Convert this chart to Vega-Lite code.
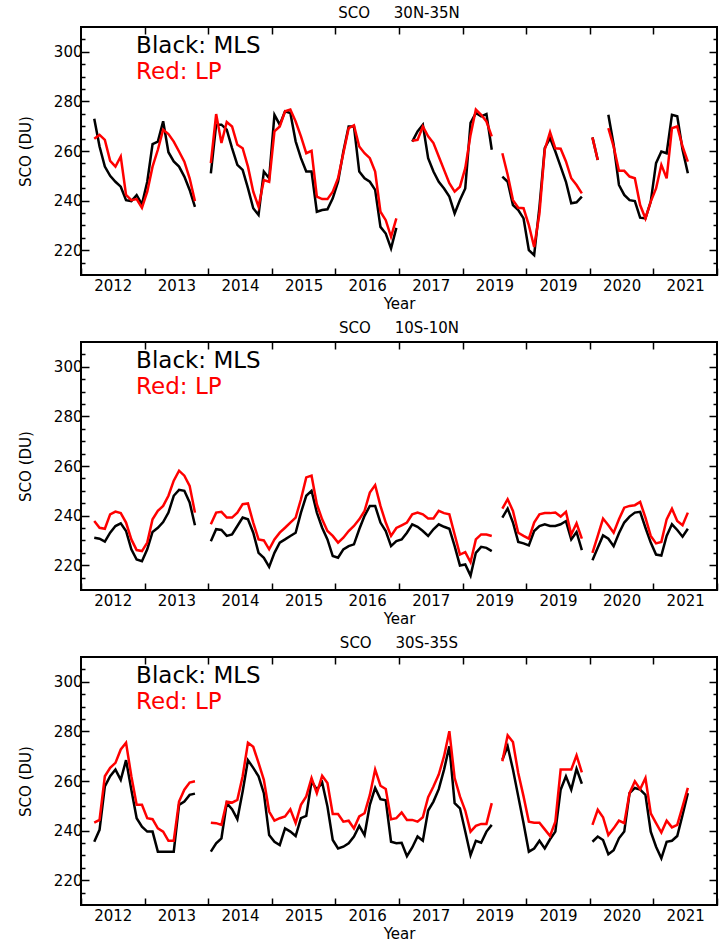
{
"$schema":"https://vega.github.io/schema/vega-lite/v6.json",
"background":"white",
"padding":{"left":17,"top":5,"right":0,"bottom":0},
"spacing":8,
"config":{"view":{"stroke":"black","strokeWidth":2},"font":"DejaVu Sans",
 "title":{"font":"DejaVu Sans","fontSize":15,"fontWeight":"normal","color":"black","offset":5},
 "axis":{"grid":false,"domain":false,"tickColor":"black","tickWidth":1.5,"labelFont":"DejaVu Sans","labelFontSize":15,"labelColor":"black","titleFont":"DejaVu Sans","titleFontSize":15,"titleFontWeight":"normal","titleColor":"black","labelOverlap":false,"labelFlush":false}},
"datasets":{"sco":[
{"p":"A","g":1,"m":2,"MLS":273,"LP":264.9},{"p":"A","g":1,"m":3,"MLS":261.8,"LP":266.5},{"p":"A","g":1,"m":4,"MLS":253.7,"LP":264.5},{"p":"A","g":1,"m":5,"MLS":250,"LP":256},{"p":"A","g":1,"m":6,"MLS":247.6,"LP":253.7},{"p":"A","g":1,"m":7,"MLS":245.6,"LP":257.8},{"p":"A","g":1,"m":8,"MLS":240.2,"LP":242.3},{"p":"A","g":1,"m":9,"MLS":239.8,"LP":240.2},{"p":"A","g":1,"m":10,"MLS":242.2,"LP":240.6},{"p":"A","g":1,"m":11,"MLS":238.5,"LP":237.1},{"p":"A","g":1,"m":12,"MLS":247.6,"LP":243.6},{"p":"A","g":1,"m":13,"MLS":262.8,"LP":253.7},{"p":"A","g":1,"m":14,"MLS":263.8,"LP":260.5},{"p":"A","g":1,"m":15,"MLS":272,"LP":268.6},{"p":"A","g":1,"m":16,"MLS":259.5,"LP":266.8},{"p":"A","g":1,"m":17,"MLS":255.8,"LP":263.8},{"p":"A","g":1,"m":18,"MLS":253.7,"LP":259.8},{"p":"A","g":1,"m":19,"MLS":249.7,"LP":255.7},{"p":"A","g":1,"m":20,"MLS":244.3,"LP":249},{"p":"A","g":1,"m":21,"MLS":237.5,"LP":239.8},
{"p":"A","g":2,"m":24,"MLS":251,"LP":255.1},{"p":"A","g":2,"m":25,"MLS":270.6,"LP":274.9},{"p":"A","g":2,"m":26,"MLS":270.6,"LP":263.2},{"p":"A","g":2,"m":27,"MLS":268.6,"LP":271.7},{"p":"A","g":2,"m":28,"MLS":261.2,"LP":269.9},{"p":"A","g":2,"m":29,"MLS":254.4,"LP":262.5},{"p":"A","g":2,"m":30,"MLS":252.4,"LP":261.1},{"p":"A","g":2,"m":31,"MLS":245,"LP":253.7},{"p":"A","g":2,"m":32,"MLS":236.9,"LP":243.6},{"p":"A","g":2,"m":33,"MLS":234.2,"LP":237.5},{"p":"A","g":2,"m":34,"MLS":251.7,"LP":248.3},{"p":"A","g":2,"m":35,"MLS":249,"LP":247.6},{"p":"A","g":2,"m":36,"MLS":274.6,"LP":267.9},{"p":"A","g":2,"m":37,"MLS":270.6,"LP":269.9},{"p":"A","g":2,"m":38,"MLS":276,"LP":276},{"p":"A","g":2,"m":39,"MLS":275.3,"LP":276.7},{"p":"A","g":2,"m":40,"MLS":263.9,"LP":271.9},{"p":"A","g":2,"m":41,"MLS":257.1,"LP":265.9},{"p":"A","g":2,"m":42,"MLS":251.7,"LP":259.1},{"p":"A","g":2,"m":43,"MLS":251.7,"LP":260.1},{"p":"A","g":2,"m":44,"MLS":235.5,"LP":241.6},{"p":"A","g":2,"m":45,"MLS":236.2,"LP":240.6},{"p":"A","g":2,"m":46,"MLS":236.5,"LP":240.6},{"p":"A","g":2,"m":47,"MLS":240.9,"LP":243.6},{"p":"A","g":2,"m":48,"MLS":247.6,"LP":249},{"p":"A","g":2,"m":49,"MLS":259.8,"LP":259.1},{"p":"A","g":2,"m":50,"MLS":269.9,"LP":269.2},{"p":"A","g":2,"m":51,"MLS":269.9,"LP":270.3},{"p":"A","g":2,"m":52,"MLS":251.7,"LP":261.8},{"p":"A","g":2,"m":53,"MLS":249,"LP":259.1},{"p":"A","g":2,"m":54,"MLS":247.6,"LP":257.1},{"p":"A","g":2,"m":55,"MLS":244.3,"LP":251.7},{"p":"A","g":2,"m":56,"MLS":229.4,"LP":235.5},{"p":"A","g":2,"m":57,"MLS":226.7,"LP":232.1},{"p":"A","g":2,"m":58,"MLS":220.7,"LP":225.4},{"p":"A","g":2,"m":59,"MLS":229,"LP":232.8},
{"p":"A","g":3,"m":62,"MLS":263.8,"LP":264.1},{"p":"A","g":3,"m":63,"MLS":267.9,"LP":264.5},{"p":"A","g":3,"m":64,"MLS":270.6,"LP":269.9},{"p":"A","g":3,"m":65,"MLS":257.1,"LP":265.9},{"p":"A","g":3,"m":66,"MLS":251.7,"LP":263.2},{"p":"A","g":3,"m":67,"MLS":247.6,"LP":257.8},{"p":"A","g":3,"m":68,"MLS":244.9,"LP":252.4},{"p":"A","g":3,"m":69,"MLS":241.6,"LP":247},{"p":"A","g":3,"m":70,"MLS":234.8,"LP":243.6},{"p":"A","g":3,"m":71,"MLS":240.2,"LP":245.6},{"p":"A","g":3,"m":72,"MLS":244.9,"LP":253.1},{"p":"A","g":3,"m":73,"MLS":271.3,"LP":266.5},{"p":"A","g":3,"m":74,"MLS":275.3,"LP":276.7},{"p":"A","g":3,"m":75,"MLS":274,"LP":274.6},{"p":"A","g":3,"m":76,"MLS":274.9,"LP":271.9},{"p":"A","g":3,"m":77,"MLS":260.5,"LP":265.9},
{"p":"A","g":4,"m":79,"MLS":249.7,"LP":259.1},{"p":"A","g":4,"m":80,"MLS":247.6,"LP":250.4},{"p":"A","g":4,"m":81,"MLS":238.2,"LP":240.2},{"p":"A","g":4,"m":82,"MLS":236.2,"LP":237.1},{"p":"A","g":4,"m":83,"MLS":232.8,"LP":236.9},{"p":"A","g":4,"m":84,"MLS":220,"LP":230.1},{"p":"A","g":4,"m":85,"MLS":218,"LP":221.3},{"p":"A","g":4,"m":86,"MLS":237.5,"LP":234.8},{"p":"A","g":4,"m":87,"MLS":261.2,"LP":260.5},{"p":"A","g":4,"m":88,"MLS":265.2,"LP":267.6},{"p":"A","g":4,"m":89,"MLS":259.8,"LP":261.1},{"p":"A","g":4,"m":90,"MLS":253.7,"LP":260.9},{"p":"A","g":4,"m":91,"MLS":247.6,"LP":255.8},{"p":"A","g":4,"m":92,"MLS":238.9,"LP":249},{"p":"A","g":4,"m":93,"MLS":239.3,"LP":246.3},{"p":"A","g":4,"m":94,"MLS":241.6,"LP":242.9},
{"p":"A","g":5,"m":96,"MLS":265.5,"LP":265.5},{"p":"A","g":5,"m":97,"MLS":256.4,"LP":256.4},
{"p":"A","g":6,"m":99,"MLS":274.6,"LP":269.2},{"p":"A","g":6,"m":100,"MLS":262.5,"LP":261.8},{"p":"A","g":6,"m":101,"MLS":246.3,"LP":252},{"p":"A","g":6,"m":102,"MLS":242.3,"LP":252},{"p":"A","g":6,"m":103,"MLS":240.2,"LP":249.7},{"p":"A","g":6,"m":104,"MLS":239.8,"LP":249},{"p":"A","g":6,"m":105,"MLS":233.1,"LP":238.2},{"p":"A","g":6,"m":106,"MLS":232.8,"LP":232.8},{"p":"A","g":6,"m":107,"MLS":239.6,"LP":239.6},{"p":"A","g":6,"m":108,"MLS":255.1,"LP":244.9},{"p":"A","g":6,"m":109,"MLS":259.8,"LP":254.4},{"p":"A","g":6,"m":110,"MLS":259.1,"LP":249},{"p":"A","g":6,"m":111,"MLS":274.6,"LP":269.2},{"p":"A","g":6,"m":112,"MLS":274,"LP":269.9},{"p":"A","g":6,"m":113,"MLS":260.5,"LP":261.8},{"p":"A","g":6,"m":114,"MLS":251,"LP":255.7},
{"p":"B","g":1,"m":2,"MLS":231.1,"LP":237.8},{"p":"B","g":1,"m":3,"MLS":230.7,"LP":235.1},{"p":"B","g":1,"m":4,"MLS":229.5,"LP":234.7},{"p":"B","g":1,"m":5,"MLS":233.1,"LP":240.5},{"p":"B","g":1,"m":6,"MLS":235.8,"LP":241.6},{"p":"B","g":1,"m":7,"MLS":236.9,"LP":241},{"p":"B","g":1,"m":8,"MLS":233.8,"LP":237.2},{"p":"B","g":1,"m":9,"MLS":226.4,"LP":230.4},{"p":"B","g":1,"m":10,"MLS":222.3,"LP":226.1},{"p":"B","g":1,"m":11,"MLS":221.6,"LP":225.7},{"p":"B","g":1,"m":12,"MLS":226.4,"LP":229.1},{"p":"B","g":1,"m":13,"MLS":233.4,"LP":238.5},{"p":"B","g":1,"m":14,"MLS":235.1,"LP":241.9},{"p":"B","g":1,"m":15,"MLS":237.4,"LP":243.9},{"p":"B","g":1,"m":16,"MLS":241.2,"LP":248},{"p":"B","g":1,"m":17,"MLS":248,"LP":254.1},{"p":"B","g":1,"m":18,"MLS":250.4,"LP":258.1},{"p":"B","g":1,"m":19,"MLS":250,"LP":256.1},{"p":"B","g":1,"m":20,"MLS":245.3,"LP":252},{"p":"B","g":1,"m":21,"MLS":236.1,"LP":241.2},
{"p":"B","g":2,"m":24,"MLS":229.7,"LP":236.5},{"p":"B","g":2,"m":25,"MLS":234.5,"LP":241.2},{"p":"B","g":2,"m":26,"MLS":234.2,"LP":241.5},{"p":"B","g":2,"m":27,"MLS":231.8,"LP":239.2},{"p":"B","g":2,"m":28,"MLS":232.4,"LP":239.2},{"p":"B","g":2,"m":29,"MLS":235.8,"LP":241.2},{"p":"B","g":2,"m":30,"MLS":239.2,"LP":244.6},{"p":"B","g":2,"m":31,"MLS":238.5,"LP":244.9},{"p":"B","g":2,"m":32,"MLS":233.1,"LP":237.2},{"p":"B","g":2,"m":33,"MLS":225,"LP":230.4},{"p":"B","g":2,"m":34,"MLS":223,"LP":230},{"p":"B","g":2,"m":35,"MLS":219.3,"LP":226.4},{"p":"B","g":2,"m":36,"MLS":225,"LP":230.4},{"p":"B","g":2,"m":37,"MLS":229.1,"LP":233.1},{"p":"B","g":2,"m":38,"MLS":230.4,"LP":235.1},{"p":"B","g":2,"m":39,"MLS":231.8,"LP":237.2},{"p":"B","g":2,"m":40,"MLS":233.1,"LP":239.2},{"p":"B","g":2,"m":41,"MLS":241.2,"LP":246.6},{"p":"B","g":2,"m":42,"MLS":248,"LP":255.4},{"p":"B","g":2,"m":43,"MLS":250,"LP":256.1},{"p":"B","g":2,"m":44,"MLS":241.2,"LP":244.6},{"p":"B","g":2,"m":45,"MLS":235.1,"LP":238.5},{"p":"B","g":2,"m":46,"MLS":230.4,"LP":233.8},{"p":"B","g":2,"m":47,"MLS":223.7,"LP":231.8},{"p":"B","g":2,"m":48,"MLS":223,"LP":229.1},{"p":"B","g":2,"m":49,"MLS":226.4,"LP":231.1},{"p":"B","g":2,"m":50,"MLS":227.7,"LP":233.8},{"p":"B","g":2,"m":51,"MLS":228.4,"LP":235.8},{"p":"B","g":2,"m":52,"MLS":234.5,"LP":238.5},{"p":"B","g":2,"m":53,"MLS":239.9,"LP":241.9},{"p":"B","g":2,"m":54,"MLS":243.9,"LP":249.3},{"p":"B","g":2,"m":55,"MLS":243.9,"LP":252.3},{"p":"B","g":2,"m":56,"MLS":237.2,"LP":243.9},{"p":"B","g":2,"m":57,"MLS":233.8,"LP":237.2},{"p":"B","g":2,"m":58,"MLS":227.7,"LP":231.8},{"p":"B","g":2,"m":59,"MLS":229.7,"LP":235},{"p":"B","g":2,"m":60,"MLS":230.4,"LP":236.1},{"p":"B","g":2,"m":61,"MLS":233.1,"LP":237.2},{"p":"B","g":2,"m":62,"MLS":236.5,"LP":240.5},{"p":"B","g":2,"m":63,"MLS":235.5,"LP":241.2},{"p":"B","g":2,"m":64,"MLS":233.8,"LP":240.5},{"p":"B","g":2,"m":65,"MLS":231.8,"LP":238.8},{"p":"B","g":2,"m":66,"MLS":234.5,"LP":238.8},{"p":"B","g":2,"m":67,"MLS":236.5,"LP":241.9},{"p":"B","g":2,"m":68,"MLS":235.5,"LP":241},{"p":"B","g":2,"m":69,"MLS":234.7,"LP":240.5},{"p":"B","g":2,"m":70,"MLS":227.7,"LP":232.4},{"p":"B","g":2,"m":71,"MLS":219.9,"LP":224.3},{"p":"B","g":2,"m":72,"MLS":220.3,"LP":225.3},{"p":"B","g":2,"m":73,"MLS":215.8,"LP":221.2},{"p":"B","g":2,"m":74,"MLS":225,"LP":230.4},{"p":"B","g":2,"m":75,"MLS":227.4,"LP":232.4},{"p":"B","g":2,"m":76,"MLS":227,"LP":232.4},{"p":"B","g":2,"m":77,"MLS":225.7,"LP":231.8},
{"p":"B","g":3,"m":79,"MLS":239.2,"LP":242.8},{"p":"B","g":3,"m":80,"MLS":242.8,"LP":246.6},{"p":"B","g":3,"m":81,"MLS":237.2,"LP":241.9},{"p":"B","g":3,"m":82,"MLS":229.4,"LP":233.1},{"p":"B","g":3,"m":83,"MLS":228.8,"LP":231.8},{"p":"B","g":3,"m":84,"MLS":228,"LP":230.7},{"p":"B","g":3,"m":85,"MLS":233.8,"LP":237.2},{"p":"B","g":3,"m":86,"MLS":235.8,"LP":240.5},{"p":"B","g":3,"m":87,"MLS":236.5,"LP":241},{"p":"B","g":3,"m":88,"MLS":235.8,"LP":241},{"p":"B","g":3,"m":89,"MLS":235.8,"LP":241.2},{"p":"B","g":3,"m":90,"MLS":236.5,"LP":239.6},{"p":"B","g":3,"m":91,"MLS":237.8,"LP":241.5},{"p":"B","g":3,"m":92,"MLS":230.4,"LP":232.4},{"p":"B","g":3,"m":93,"MLS":233.4,"LP":236.9},{"p":"B","g":3,"m":94,"MLS":226.1,"LP":230.7},
{"p":"B","g":4,"m":96,"MLS":222,"LP":225},{"p":"B","g":4,"m":97,"MLS":227,"LP":231.8},{"p":"B","g":4,"m":98,"MLS":232,"LP":238.8},{"p":"B","g":4,"m":99,"MLS":230.7,"LP":236.1},{"p":"B","g":4,"m":100,"MLS":227.7,"LP":233.1},{"p":"B","g":4,"m":101,"MLS":232.9,"LP":238.5},{"p":"B","g":4,"m":102,"MLS":237.2,"LP":243.2},{"p":"B","g":4,"m":103,"MLS":239.6,"LP":243.9},{"p":"B","g":4,"m":104,"MLS":241.2,"LP":244.2},{"p":"B","g":4,"m":105,"MLS":241.5,"LP":245.5},{"p":"B","g":4,"m":106,"MLS":235.1,"LP":239.2},{"p":"B","g":4,"m":107,"MLS":229.1,"LP":231.8},{"p":"B","g":4,"m":108,"MLS":224.3,"LP":228.8},{"p":"B","g":4,"m":109,"MLS":223.9,"LP":229.4},{"p":"B","g":4,"m":110,"MLS":231.8,"LP":238.5},{"p":"B","g":4,"m":111,"MLS":236.5,"LP":242.8},{"p":"B","g":4,"m":112,"MLS":234.2,"LP":237.8},{"p":"B","g":4,"m":113,"MLS":231.5,"LP":236.1},{"p":"B","g":4,"m":114,"MLS":234.7,"LP":241.2},
{"p":"C","g":1,"m":2,"MLS":235.5,"LP":243.2},{"p":"C","g":1,"m":3,"MLS":240.3,"LP":244.3},{"p":"C","g":1,"m":4,"MLS":257.8,"LP":261.9},{"p":"C","g":1,"m":5,"MLS":261.9,"LP":265.3},{"p":"C","g":1,"m":6,"MLS":264.6,"LP":267.3},{"p":"C","g":1,"m":7,"MLS":260.5,"LP":272.7},{"p":"C","g":1,"m":8,"MLS":268.4,"LP":275.4},{"p":"C","g":1,"m":9,"MLS":256.5,"LP":261.9},{"p":"C","g":1,"m":10,"MLS":245,"LP":250.4},{"p":"C","g":1,"m":11,"MLS":241.6,"LP":250.4},{"p":"C","g":1,"m":12,"MLS":239.6,"LP":245},{"p":"C","g":1,"m":13,"MLS":239.6,"LP":244.6},{"p":"C","g":1,"m":14,"MLS":231.5,"LP":240.9},{"p":"C","g":1,"m":15,"MLS":231.5,"LP":239.6},{"p":"C","g":1,"m":16,"MLS":231.5,"LP":235.9},{"p":"C","g":1,"m":17,"MLS":231.5,"LP":235.9},{"p":"C","g":1,"m":18,"MLS":250.4,"LP":251.7},{"p":"C","g":1,"m":19,"MLS":251.7,"LP":256.5},{"p":"C","g":1,"m":20,"MLS":254.4,"LP":259.4},{"p":"C","g":1,"m":21,"MLS":254.9,"LP":259.9},
{"p":"C","g":2,"m":24,"MLS":231.5,"LP":243.2},{"p":"C","g":2,"m":25,"MLS":234.9,"LP":243},{"p":"C","g":2,"m":26,"MLS":236.9,"LP":242.3},{"p":"C","g":2,"m":27,"MLS":251.1,"LP":251.7},{"p":"C","g":2,"m":28,"MLS":248.6,"LP":251.3},{"p":"C","g":2,"m":29,"MLS":244.6,"LP":252.4},{"p":"C","g":2,"m":30,"MLS":255.8,"LP":261.9},{"p":"C","g":2,"m":31,"MLS":268.4,"LP":275.4},{"p":"C","g":2,"m":32,"MLS":265.3,"LP":273.8},{"p":"C","g":2,"m":33,"MLS":261.9,"LP":267.3},{"p":"C","g":2,"m":34,"MLS":255.1,"LP":260.5},{"p":"C","g":2,"m":35,"MLS":238.2,"LP":247.7},{"p":"C","g":2,"m":36,"MLS":235.5,"LP":244},{"p":"C","g":2,"m":37,"MLS":234.2,"LP":245},{"p":"C","g":2,"m":38,"MLS":240.9,"LP":245.7},{"p":"C","g":2,"m":39,"MLS":239.6,"LP":248.6},{"p":"C","g":2,"m":40,"MLS":237.8,"LP":243},{"p":"C","g":2,"m":41,"MLS":245,"LP":250.4},{"p":"C","g":2,"m":42,"MLS":245.9,"LP":253.8},{"p":"C","g":2,"m":43,"MLS":259.9,"LP":261.2},{"p":"C","g":2,"m":44,"MLS":256.5,"LP":255.1},{"p":"C","g":2,"m":45,"MLS":259.4,"LP":262.1},{"p":"C","g":2,"m":46,"MLS":249.7,"LP":259.2},{"p":"C","g":2,"m":47,"MLS":236.2,"LP":246.7},{"p":"C","g":2,"m":48,"MLS":232.8,"LP":246.7},{"p":"C","g":2,"m":49,"MLS":233.5,"LP":243.6},{"p":"C","g":2,"m":50,"MLS":234.9,"LP":244},{"p":"C","g":2,"m":51,"MLS":237.6,"LP":240.9},{"p":"C","g":2,"m":52,"MLS":241.9,"LP":245.7},{"p":"C","g":2,"m":53,"MLS":238.2,"LP":247},{"p":"C","g":2,"m":54,"MLS":250.4,"LP":254.4},{"p":"C","g":2,"m":55,"MLS":257.2,"LP":264.6},{"p":"C","g":2,"m":56,"MLS":252.7,"LP":258.1},{"p":"C","g":2,"m":57,"MLS":252.2,"LP":256.8},{"p":"C","g":2,"m":58,"MLS":235.5,"LP":244.6},{"p":"C","g":2,"m":59,"MLS":234.9,"LP":245},{"p":"C","g":2,"m":60,"MLS":235.1,"LP":247.3},{"p":"C","g":2,"m":61,"MLS":229.7,"LP":244.3},{"p":"C","g":2,"m":62,"MLS":233.2,"LP":244.3},{"p":"C","g":2,"m":63,"MLS":237.6,"LP":243.6},{"p":"C","g":2,"m":64,"MLS":235.9,"LP":245.4},{"p":"C","g":2,"m":65,"MLS":248.1,"LP":253.5},{"p":"C","g":2,"m":66,"MLS":251.7,"LP":257.8},{"p":"C","g":2,"m":67,"MLS":256.7,"LP":262.6},{"p":"C","g":2,"m":68,"MLS":264.6,"LP":270},{"p":"C","g":2,"m":69,"MLS":274,"LP":280.1},{"p":"C","g":2,"m":70,"MLS":251.1,"LP":261.2},{"p":"C","g":2,"m":71,"MLS":249,"LP":253.8},{"p":"C","g":2,"m":72,"MLS":239.6,"LP":248.1},{"p":"C","g":2,"m":73,"MLS":230.1,"LP":239.6},{"p":"C","g":2,"m":74,"MLS":235.9,"LP":241.9},{"p":"C","g":2,"m":75,"MLS":235.1,"LP":242.7},{"p":"C","g":2,"m":76,"MLS":239.6,"LP":242.7},{"p":"C","g":2,"m":77,"MLS":242.3,"LP":251.1},
{"p":"C","g":3,"m":79,"MLS":268.6,"LP":268},{"p":"C","g":3,"m":80,"MLS":274,"LP":278.4},{"p":"C","g":3,"m":81,"MLS":264.6,"LP":275.7},{"p":"C","g":3,"m":82,"MLS":253.8,"LP":263.2},{"p":"C","g":3,"m":83,"MLS":243,"LP":253.8},{"p":"C","g":3,"m":84,"MLS":231.5,"LP":243.6},{"p":"C","g":3,"m":85,"MLS":232.8,"LP":243.2},{"p":"C","g":3,"m":86,"MLS":235.9,"LP":243.2},{"p":"C","g":3,"m":87,"MLS":232.8,"LP":240.5},{"p":"C","g":3,"m":88,"MLS":236.5,"LP":237.8},{"p":"C","g":3,"m":89,"MLS":239.6,"LP":243.6},{"p":"C","g":3,"m":90,"MLS":256.5,"LP":264.6},{"p":"C","g":3,"m":91,"MLS":261.9,"LP":264.6},{"p":"C","g":3,"m":92,"MLS":256.5,"LP":264.6},{"p":"C","g":3,"m":93,"MLS":264.9,"LP":270.3},{"p":"C","g":3,"m":94,"MLS":258.9,"LP":263.5},
{"p":"C","g":4,"m":96,"MLS":235.5,"LP":242.3},{"p":"C","g":4,"m":97,"MLS":237.6,"LP":248.4},{"p":"C","g":4,"m":98,"MLS":236.2,"LP":245.4},{"p":"C","g":4,"m":99,"MLS":230.5,"LP":238.2},{"p":"C","g":4,"m":100,"MLS":232.1,"LP":240.9},{"p":"C","g":4,"m":101,"MLS":236.9,"LP":244},{"p":"C","g":4,"m":102,"MLS":239.6,"LP":243},{"p":"C","g":4,"m":103,"MLS":255.1,"LP":255.1},{"p":"C","g":4,"m":104,"MLS":257.2,"LP":259.9},{"p":"C","g":4,"m":105,"MLS":256.5,"LP":256.7},{"p":"C","g":4,"m":106,"MLS":254.4,"LP":261.2},{"p":"C","g":4,"m":107,"MLS":239.6,"LP":247},{"p":"C","g":4,"m":108,"MLS":233.5,"LP":243},{"p":"C","g":4,"m":109,"MLS":228.8,"LP":239.2},{"p":"C","g":4,"m":110,"MLS":235.5,"LP":244},{"p":"C","g":4,"m":111,"MLS":235.9,"LP":241.3},{"p":"C","g":4,"m":112,"MLS":237.8,"LP":242.3},{"p":"C","g":4,"m":113,"MLS":246.3,"LP":249.7},{"p":"C","g":4,"m":114,"MLS":255.1,"LP":257.2}
]},
"data":{"name":"sco"},
"vconcat":[
{"width":636,"height":248,"transform":[{"filter":"datum.p=='A'"}],
 "title":{"text":"SCO\u00a0\u00a0\u00a0\u00a0\u00a030N-35N"},
 "layer":[
  {"mark":{"type":"line","color":"black","strokeWidth":2.5},
   "encoding":{"x":{"field":"m","type":"quantitative","scale":{"domain":[-0.5,119.5],"nice":false,"zero":false},
     "axis":{"orient":"bottom","title":"Year","titlePadding":3,"values":[-0.5,5.5,11.5,17.5,23.5,29.5,35.5,41.5,47.5,53.5,59.5,65.5,71.5,77.5,83.5,89.5,95.5,101.5,107.5,113.5,119.5],"labelExpr":"(datum.value-5.5)%12==0 ? ['2012','2013','2014','2015','2016','2017','2019','2019','2020','2021'][(datum.value-5.5)/12] : ''","tickSize":-7,"tickOpacity":{"condition":{"test":"(datum.value-5.5)%12==0","value":0},"value":1},"labelPadding":10}},
    "y":{"field":"MLS","type":"quantitative","scale":{"domain":[210,310],"nice":false,"zero":false},
     "axis":{"orient":"left","title":"SCO (DU)","titlePadding":20,"values":[215,220,225,230,235,240,245,250,255,260,265,270,275,280,285,290,295,300,305],"labelExpr":"datum.value%20==0 ? datum.value : ''","tickSize":{"condition":{"test":"datum.value%20==0","value":-8},"value":-4},"labelPadding":7}},
    "detail":{"field":"g"}}},
  {"mark":{"type":"line","color":"#ff0000","strokeWidth":2.5},
   "encoding":{"x":{"field":"m","type":"quantitative","axis":{"orient":"top","title":null,"labels":false,"values":[11.5,23.5,35.5,47.5,59.5,71.5,83.5,95.5,107.5],"tickSize":-7}},
    "y":{"field":"LP","type":"quantitative","axis":{"orient":"right","title":null,"labels":false,"values":[215,220,225,230,235,240,245,250,255,260,265,270,275,280,285,290,295,300,305],"tickSize":{"condition":{"test":"datum.value%20==0","value":-8},"value":-4}}},
    "detail":{"field":"g"}}},
  {"data":{"values":[{"label":"Black: MLS"}]},"mark":{"type":"text","align":"left","baseline":"middle","font":"DejaVu Sans","fontSize":23,"color":"black"},
   "encoding":{"x":{"datum":9.9,"type":"quantitative","axis":null},"y":{"datum":302.5,"type":"quantitative","axis":null},"text":{"field":"label"}}},
  {"data":{"values":[{"label":"Red: LP"}]},"mark":{"type":"text","align":"left","baseline":"middle","font":"DejaVu Sans","fontSize":23,"color":"#ff0000"},
   "encoding":{"x":{"datum":9.9,"type":"quantitative","axis":null},"y":{"datum":292,"type":"quantitative","axis":null},"text":{"field":"label"}}}
 ],
 "resolve":{"axis":{"x":"independent","y":"independent"}}},
{"width":636,"height":248,"transform":[{"filter":"datum.p=='B'"}],
 "title":{"text":"SCO\u00a0\u00a0\u00a0\u00a0\u00a010S-10N"},
 "layer":[
  {"mark":{"type":"line","color":"black","strokeWidth":2.5},
   "encoding":{"x":{"field":"m","type":"quantitative","scale":{"domain":[-0.5,119.5],"nice":false,"zero":false},
     "axis":{"orient":"bottom","title":"Year","titlePadding":3,"values":[-0.5,5.5,11.5,17.5,23.5,29.5,35.5,41.5,47.5,53.5,59.5,65.5,71.5,77.5,83.5,89.5,95.5,101.5,107.5,113.5,119.5],"labelExpr":"(datum.value-5.5)%12==0 ? ['2012','2013','2014','2015','2016','2017','2019','2019','2020','2021'][(datum.value-5.5)/12] : ''","tickSize":-7,"tickOpacity":{"condition":{"test":"(datum.value-5.5)%12==0","value":0},"value":1},"labelPadding":10}},
    "y":{"field":"MLS","type":"quantitative","scale":{"domain":[210,310],"nice":false,"zero":false},
     "axis":{"orient":"left","title":"SCO (DU)","titlePadding":20,"values":[215,220,225,230,235,240,245,250,255,260,265,270,275,280,285,290,295,300,305],"labelExpr":"datum.value%20==0 ? datum.value : ''","tickSize":{"condition":{"test":"datum.value%20==0","value":-8},"value":-4},"labelPadding":7}},
    "detail":{"field":"g"}}},
  {"mark":{"type":"line","color":"#ff0000","strokeWidth":2.5},
   "encoding":{"x":{"field":"m","type":"quantitative","axis":{"orient":"top","title":null,"labels":false,"values":[11.5,23.5,35.5,47.5,59.5,71.5,83.5,95.5,107.5],"tickSize":-7}},
    "y":{"field":"LP","type":"quantitative","axis":{"orient":"right","title":null,"labels":false,"values":[215,220,225,230,235,240,245,250,255,260,265,270,275,280,285,290,295,300,305],"tickSize":{"condition":{"test":"datum.value%20==0","value":-8},"value":-4}}},
    "detail":{"field":"g"}}},
  {"data":{"values":[{"label":"Black: MLS"}]},"mark":{"type":"text","align":"left","baseline":"middle","font":"DejaVu Sans","fontSize":23,"color":"black"},
   "encoding":{"x":{"datum":9.9,"type":"quantitative","axis":null},"y":{"datum":302.5,"type":"quantitative","axis":null},"text":{"field":"label"}}},
  {"data":{"values":[{"label":"Red: LP"}]},"mark":{"type":"text","align":"left","baseline":"middle","font":"DejaVu Sans","fontSize":23,"color":"#ff0000"},
   "encoding":{"x":{"datum":9.9,"type":"quantitative","axis":null},"y":{"datum":292,"type":"quantitative","axis":null},"text":{"field":"label"}}}
 ],
 "resolve":{"axis":{"x":"independent","y":"independent"}}},
{"width":636,"height":248,"transform":[{"filter":"datum.p=='C'"}],
 "title":{"text":"SCO\u00a0\u00a0\u00a0\u00a0\u00a030S-35S"},
 "layer":[
  {"mark":{"type":"line","color":"black","strokeWidth":2.5},
   "encoding":{"x":{"field":"m","type":"quantitative","scale":{"domain":[-0.5,119.5],"nice":false,"zero":false},
     "axis":{"orient":"bottom","title":"Year","titlePadding":3,"values":[-0.5,5.5,11.5,17.5,23.5,29.5,35.5,41.5,47.5,53.5,59.5,65.5,71.5,77.5,83.5,89.5,95.5,101.5,107.5,113.5,119.5],"labelExpr":"(datum.value-5.5)%12==0 ? ['2012','2013','2014','2015','2016','2017','2019','2019','2020','2021'][(datum.value-5.5)/12] : ''","tickSize":-7,"tickOpacity":{"condition":{"test":"(datum.value-5.5)%12==0","value":0},"value":1},"labelPadding":10}},
    "y":{"field":"MLS","type":"quantitative","scale":{"domain":[210,310],"nice":false,"zero":false},
     "axis":{"orient":"left","title":"SCO (DU)","titlePadding":20,"values":[215,220,225,230,235,240,245,250,255,260,265,270,275,280,285,290,295,300,305],"labelExpr":"datum.value%20==0 ? datum.value : ''","tickSize":{"condition":{"test":"datum.value%20==0","value":-8},"value":-4},"labelPadding":7}},
    "detail":{"field":"g"}}},
  {"mark":{"type":"line","color":"#ff0000","strokeWidth":2.5},
   "encoding":{"x":{"field":"m","type":"quantitative","axis":{"orient":"top","title":null,"labels":false,"values":[11.5,23.5,35.5,47.5,59.5,71.5,83.5,95.5,107.5],"tickSize":-7}},
    "y":{"field":"LP","type":"quantitative","axis":{"orient":"right","title":null,"labels":false,"values":[215,220,225,230,235,240,245,250,255,260,265,270,275,280,285,290,295,300,305],"tickSize":{"condition":{"test":"datum.value%20==0","value":-8},"value":-4}}},
    "detail":{"field":"g"}}},
  {"data":{"values":[{"label":"Black: MLS"}]},"mark":{"type":"text","align":"left","baseline":"middle","font":"DejaVu Sans","fontSize":23,"color":"black"},
   "encoding":{"x":{"datum":9.9,"type":"quantitative","axis":null},"y":{"datum":302.5,"type":"quantitative","axis":null},"text":{"field":"label"}}},
  {"data":{"values":[{"label":"Red: LP"}]},"mark":{"type":"text","align":"left","baseline":"middle","font":"DejaVu Sans","fontSize":23,"color":"#ff0000"},
   "encoding":{"x":{"datum":9.9,"type":"quantitative","axis":null},"y":{"datum":292,"type":"quantitative","axis":null},"text":{"field":"label"}}}
 ],
 "resolve":{"axis":{"x":"independent","y":"independent"}}}
]
}
